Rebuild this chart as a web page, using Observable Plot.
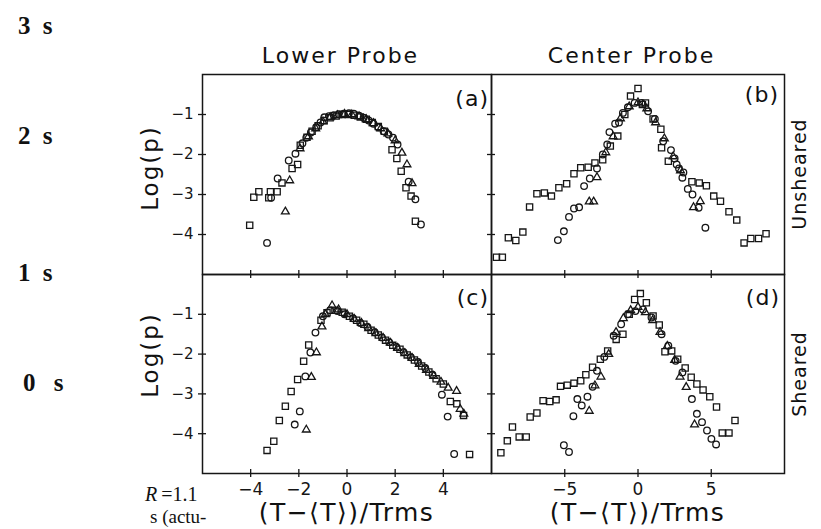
<!DOCTYPE html>
<html>
<head>
<meta charset="utf-8">
<script src="https://cdn.jsdelivr.net/npm/d3@7"></script>
<script src="https://cdn.jsdelivr.net/npm/@observablehq/plot@0.6"></script>
<style>
  html, body { margin: 0; padding: 0; background: #fff; }
  #root { position: relative; width: 821px; height: 529px; overflow: hidden; background: #fff; }
  .abs { position: absolute; white-space: nowrap; color: #111; line-height: 1; }
  .sans { font-family: "DejaVu Sans", sans-serif; }
  .serif { font-family: "Liberation Serif", "DejaVu Serif", serif; }
  .plot-holder { position: absolute; }
</style>
</head>
<body>
<div id="root"></div>
<script>
// ---------- data ----------
const yDomain = [-5, 0];
const yTicks = [-4, -3, -2, -1];
const leftXDomain = [-6, 6];
const leftXTicks = [-4, -2, 0, 2, 4];
const rightXDomain = [-10, 10];
const rightXTicks = [-5, 0, 5];

const columnTitles = ["Lower Probe", "Center Probe"];
const rowTitles = ["Unsheared", "Sheared"];
const panelLabels = ["(a)", "(b)", "(c)", "(d)"];
const timeLabels = ["3 s", "2 s", "1 s", "0 s"];
const xTitle = "(T\u2212\u27E8T\u27E9)/Trms";
const yTitle = "Log(p)";

// Panel (a): lower probe, unsheared
const aSquares = [[-4.04,-3.77],[-3.87,-3.07],[-3.66,-2.93],[-3.25,-3.08],[-3.18,-2.93],[-2.9,-2.93],[-2.7,-2.71],[-2.28,-2.35],[-2.05,-2.25],[-1.94,-1.77],[-1.66,-1.57],[-1.45,-1.42],[-1.2,-1.28],[-0.95,-1.15],[-0.7,-1.08],[-0.45,-1.04],[-0.2,-1.0],[0.05,-1.0],[0.3,-1.02],[0.55,-1.06],[0.8,-1.12],[1.05,-1.2],[1.3,-1.3],[1.55,-1.42],[1.87,-1.88],[2.07,-2.1],[2.25,-2.42],[2.45,-2.83],[2.66,-3.04],[2.84,-3.67]];
const aCircles = [[-3.32,-4.21],[-3.15,-3.08],[-2.88,-2.6],[-2.42,-2.15],[-2.14,-1.98],[-1.85,-1.72],[-1.69,-1.58],[-1.5,-1.45],[-1.28,-1.32],[-1.1,-1.2],[-0.94,-1.07],[-0.75,-1.04],[-0.55,-1.02],[-0.35,-0.99],[-0.14,-0.98],[0.08,-0.97],[0.28,-0.98],[0.5,-1.03],[0.69,-1.08],[0.9,-1.15],[1.1,-1.23],[1.3,-1.32],[1.52,-1.42],[1.72,-1.5],[1.91,-1.58],[2.1,-1.75],[2.56,-2.68],[2.84,-3.12],[3.07,-3.75]];
const aTriangles = [[-2.56,-3.43],[-2.38,-2.65],[-1.95,-1.85],[-1.6,-1.55],[-1.3,-1.35],[-1.0,-1.18],[-0.7,-1.07],[-0.4,-1.02],[-0.1,-0.99],[0.2,-1.0],[0.5,-1.05],[0.8,-1.12],[1.1,-1.22],[1.4,-1.35],[1.7,-1.48],[2.0,-1.65],[2.28,-1.96],[2.49,-2.25],[2.7,-2.72]];

// Panel (b): center probe, unsheared
const bSquares = [[-9.66,-4.57],[-9.26,-4.57],[-8.85,-4.08],[-8.34,-4.15],[-7.86,-3.94],[-7.4,-3.31],[-6.9,-2.98],[-6.39,-2.96],[-5.91,-3.04],[-5.4,-2.83],[-4.87,-2.73],[-4.37,-2.48],[-3.91,-2.33],[-3.4,-2.32],[-2.94,-2.21],[-2.41,-2.13],[-1.89,-1.79],[-1.38,-1.54],[-0.9,-1.0],[-0.51,-0.54],[0,-0.35],[0.3,-0.75],[0.51,-0.71],[1.03,-1.11],[1.56,-1.37],[1.61,-1.83],[2.07,-2.17],[3.68,-2.68],[4.18,-2.71],[4.67,-2.78],[5.17,-3.04],[5.63,-3.17],[6.21,-3.43],[6.74,-3.64],[7.24,-4.21],[7.7,-4.1],[8.23,-4.1],[8.74,-3.98]];
const bCircles = [[-5.47,-4.14],[-5.06,-3.92],[-4.71,-3.56],[-4.37,-3.35],[-4.02,-3.32],[-3.68,-2.79],[-3.29,-2.6],[-2.8,-2.35],[-2.4,-2.0],[-2.1,-1.75],[-1.95,-1.44],[-1.56,-1.23],[-1.3,-1.2],[-1.03,-0.96],[-0.69,-0.82],[-0.23,-0.71],[0.23,-0.71],[0.69,-0.92],[1.15,-1.11],[1.72,-1.67],[2.25,-1.89],[2.5,-2.1],[2.64,-2.25],[2.8,-2.35],[3.03,-2.58],[3.1,-2.45],[3.4,-2.86],[3.72,-3.0],[4.14,-3.33],[4.6,-3.83]];
const bTriangles = [[-3.33,-3.18],[-3.03,-3.18],[-2.8,-2.57],[-2.2,-1.95],[-1.7,-1.55],[-1.2,-1.1],[-0.6,-0.8],[0,-0.7],[0.6,-0.85],[1.2,-1.2],[1.8,-1.6],[2.4,-2.05],[2.9,-2.4],[3.79,-3.32],[4.25,-3.17]];

// Panel (c): lower probe, sheared
const cSquares = [[-3.32,-4.42],[-3.04,-4.19],[-2.81,-3.67],[-2.56,-3.31],[-2.32,-2.94],[-2.05,-2.64],[-1.8,-2.18],[-1.59,-1.77],[-1.08,-1.15],[-0.83,-0.96],[-0.5,-0.9],[-0.2,-0.95],[0.1,-1.05],[0.4,-1.15],[0.7,-1.25],[1.0,-1.4],[1.3,-1.52],[1.6,-1.65],[1.9,-1.78],[2.2,-1.88],[2.5,-2.02],[2.8,-2.15],[3.1,-2.3],[3.4,-2.45],[3.7,-2.62],[4.0,-2.75],[4.29,-3.19],[4.56,-3.25],[4.84,-3.54],[5.09,-4.52]];
const cCircles = [[-2.17,-3.77],[-1.96,-3.44],[-1.73,-2.56],[-1.52,-1.96],[-1.31,-1.46],[-1.0,-1.05],[-0.7,-0.9],[-0.4,-0.92],[-0.1,-1.0],[0.25,-1.1],[0.55,-1.22],[0.85,-1.32],[1.15,-1.45],[1.45,-1.58],[1.75,-1.7],[2.05,-1.82],[2.35,-1.95],[2.65,-2.08],[2.95,-2.2],[3.25,-2.35],[3.55,-2.52],[3.94,-3.02],[4.18,-3.57],[4.45,-4.51]];
const cTriangles = [[-1.69,-3.9],[-1.48,-2.58],[-1.27,-1.96],[-1.04,-1.31],[-0.9,-1.0],[-0.62,-0.78],[-0.35,-0.88],[0,-1.0],[0.3,-1.12],[0.6,-1.22],[0.9,-1.35],[1.2,-1.48],[1.5,-1.6],[1.8,-1.72],[2.1,-1.85],[2.4,-1.98],[2.7,-2.1],[3.0,-2.25],[3.3,-2.4],[3.6,-2.55],[3.9,-2.7],[4.2,-2.85],[4.55,-2.93],[4.7,-3.38],[4.85,-3.5]];

// Panel (d): center probe, sheared
const dSquares = [[-9.36,-4.48],[-8.92,-4.18],[-8.57,-3.83],[-8.11,-4.08],[-7.63,-4.08],[-7.36,-3.58],[-6.9,-3.48],[-6.48,-3.17],[-6.02,-3.19],[-5.59,-3.15],[-5.29,-2.81],[-4.83,-2.78],[-4.37,-2.73],[-3.91,-2.67],[-3.56,-2.52],[-3.1,-2.33],[-2.57,-2.13],[-2.07,-1.92],[-1.49,-1.63],[-1.03,-1.5],[-0.6,-1.0],[-0.23,-0.63],[0.16,-0.48],[0.57,-0.71],[1.03,-1.04],[1.45,-1.27],[1.84,-1.94],[2.3,-1.92],[2.71,-2.13],[3.22,-2.35],[3.63,-2.58],[4.02,-2.75],[4.44,-2.9],[4.9,-3.07],[5.36,-3.33],[5.75,-3.98],[6.21,-3.98],[6.62,-3.67]];
const dCircles = [[-5.06,-4.29],[-4.71,-4.46],[-4.41,-3.56],[-4.14,-3.13],[-3.84,-3.29],[-3.45,-3.07],[-3.1,-2.82],[-2.8,-2.42],[-2.3,-2.07],[-1.66,-1.54],[-1.15,-1.25],[-0.69,-1.0],[-0.18,-0.92],[0.34,-0.88],[0.92,-1.08],[1.61,-1.5],[2.07,-1.79],[2.57,-2.17],[3.03,-2.46],[3.68,-3.13],[4.02,-3.5],[4.37,-3.71],[4.71,-3.92],[5.01,-4.13],[5.33,-4.27]];
const dTriangles = [[-3.33,-3.43],[-2.94,-2.79],[-2.53,-2.57],[-2.0,-2.0],[-1.5,-1.45],[-1.0,-1.1],[-0.5,-0.9],[0,-0.82],[0.5,-0.95],[1.0,-1.15],[1.5,-1.45],[2.0,-1.8],[2.5,-2.15],[2.87,-2.57],[3.29,-2.83],[3.86,-3.77]];

// ---------- layout ----------
const root = document.getElementById("root");
const FONT = "DejaVu Sans, sans-serif";
const ML = 60, MR = 12, MT = 12, MB = 50;
const colX = [202, 491, 784];
const rowY = [74, 274, 473];

function addText(txt, x, y, css, cls) {
  const d = document.createElement("div");
  d.className = "abs " + (cls || "sans");
  d.textContent = txt;
  d.style.left = x + "px";
  d.style.top = y + "px";
  Object.assign(d.style, css || {});
  root.appendChild(d);
  return d;
}

function makePanel(o) {
  const w = o.x1 - o.x0, h = o.y1 - o.y0;
  const [xa, xb] = o.xDomain;
  const ux = (xb - xa) / w;
  const uy = (yDomain[1] - yDomain[0]) / h;
  const T = 4;
  const ink = "#161616";
  const marks = [
    Plot.frame({stroke: ink, strokeWidth: 1.5}),
    Plot.ruleX(o.xTicks, {x: d => d, y1: yDomain[0] - T * uy, y2: yDomain[0] + T * uy, stroke: ink, strokeWidth: 1.3}),
    Plot.ruleY(yTicks, {y: d => d, x1: xa - T * ux, x2: xa + T * ux, stroke: ink, strokeWidth: 1.3}),
    Plot.axisY(yTicks, {anchor: "left", tickSize: 0, tickPadding: 9, fontSize: 15, label: null,
      tickFormat: o.yLabels ? (d => "\u2212" + Math.abs(d)) : (() => "")}),
    Plot.axisX(o.xTicks, {anchor: "bottom", tickSize: 0, tickPadding: 9, fontSize: 17, label: null,
      tickFormat: o.xLabels ? (d => d < 0 ? "\u2212" + Math.abs(d) : String(d)) : (() => "")}),
    Plot.dot(o.squares, {x: d => d[0], y: d => d[1], symbol: "square", r: 3.5, stroke: ink, strokeWidth: 1.3, fill: "none"}),
    Plot.dot(o.circles, {x: d => d[0], y: d => d[1], symbol: "circle", r: 3.3, stroke: ink, strokeWidth: 1.3, fill: "none"}),
    Plot.dot(o.triangles, {x: d => d[0], y: d => d[1], symbol: "triangle", r: 2.9, stroke: ink, strokeWidth: 1.3, fill: "none"})
  ];
  const svg = Plot.plot({
    width: w + ML + MR, height: h + MT + MB,
    marginLeft: ML, marginRight: MR, marginTop: MT, marginBottom: MB,
    x: {domain: o.xDomain},
    y: {domain: yDomain},
    style: {background: "transparent", fontFamily: FONT, color: ink, overflow: "visible"},
    marks
  });
  const holder = document.createElement("div");
  holder.className = "plot-holder";
  holder.style.left = (o.x0 - ML) + "px";
  holder.style.top = (o.y0 - MT) + "px";
  holder.appendChild(svg);
  root.appendChild(holder);
}

makePanel({x0: colX[0], x1: colX[1], y0: rowY[0], y1: rowY[1], xDomain: leftXDomain, xTicks: leftXTicks, yLabels: true, xLabels: false, squares: aSquares, circles: aCircles, triangles: aTriangles});
makePanel({x0: colX[1], x1: colX[2], y0: rowY[0], y1: rowY[1], xDomain: rightXDomain, xTicks: rightXTicks, yLabels: false, xLabels: false, squares: bSquares, circles: bCircles, triangles: bTriangles});
makePanel({x0: colX[0], x1: colX[1], y0: rowY[1], y1: rowY[2], xDomain: leftXDomain, xTicks: leftXTicks, yLabels: true, xLabels: true, squares: cSquares, circles: cCircles, triangles: cTriangles});
makePanel({x0: colX[1], x1: colX[2], y0: rowY[1], y1: rowY[2], xDomain: rightXDomain, xTicks: rightXTicks, yLabels: false, xLabels: true, squares: dSquares, circles: dCircles, triangles: dTriangles});

// column titles
[0, 1].forEach(i => {
  const cx = (colX[i] + colX[i + 1]) / 2 - 6;
  addText(columnTitles[i], cx, 45, {transform: "translateX(-50%)", fontSize: "22px", letterSpacing: "2px"});
});
// panel labels
const plPos = [[489, 99], [779, 95], [489, 298], [780, 298]];
panelLabels.forEach((t, i) => addText(t, plPos[i][0], plPos[i][1], {transform: "translate(-100%, -50%)", fontSize: "22px", letterSpacing: "1px"}));
// row titles (rotated)
[0, 1].forEach(i => {
  const cy = (rowY[i] + rowY[i + 1]) / 2;
  addText(rowTitles[i], 799, cy, {transform: "translate(-50%, -50%) rotate(-90deg)", fontSize: "19px", letterSpacing: "1px"});
});
// y titles
[[150, 168], [150, 355]].forEach(p => addText(yTitle, p[0], p[1], {transform: "translate(-50%, -50%) rotate(-90deg)", fontSize: "23px", letterSpacing: "2px"}));
// x titles
[0, 1].forEach(i => {
  const cx = (colX[i] + colX[i + 1]) / 2;
  addText(xTitle, cx, 512, {transform: "translate(-50%, -50%)", fontSize: "25px", letterSpacing: "1.5px"});
});
// left margin time labels (from the surrounding page)
const tPos = [[18, 25], [18, 135], [18, 272], [23, 382]];
timeLabels.forEach((t, i) => addText(t, tPos[i][0], tPos[i][1], {transform: "translateY(-50%)", fontSize: "25px", fontWeight: "bold", wordSpacing: i === 3 ? "12px" : "6px"}, "serif"));
const r1 = document.createElement("div");
r1.className = "abs serif";
r1.style.cssText += "left:145px;top:484px;font-size:20px;";
r1.innerHTML = "<i>R</i>\u2009=1.1";
root.appendChild(r1);
addText("s (actu-", 150, 507, {fontSize: "19px"}, "serif");
</script>
</body>
</html>
